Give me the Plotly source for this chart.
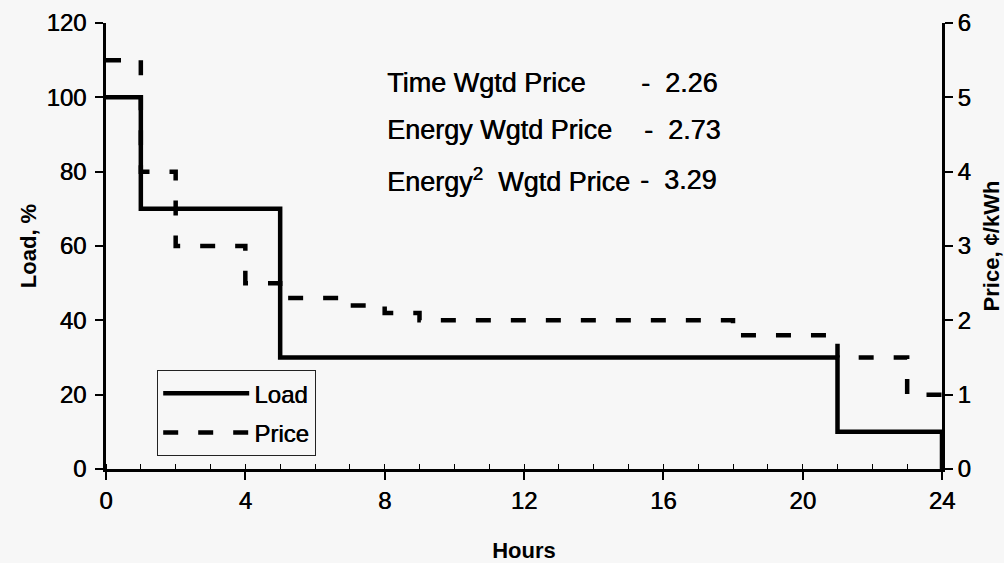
import plotly.graph_objects as go

# Hourly profile: one value per hour, 0..23
hours = list(range(25))
load_pct = [100, 70, 70, 70, 70] + [30] * 16 + [10, 10, 10]
price_cents = [5.5, 4.0, 3.0, 3.0, 2.5, 2.3, 2.3, 2.2, 2.1] + [2.0] * 9 + [1.8, 1.8, 1.8, 1.5, 1.5, 1.0]

x_ticks = [0, 4, 8, 12, 16, 20, 24]
load_ticks = [0, 20, 40, 60, 80, 100, 120]
price_ticks = [0, 1, 2, 3, 4, 5, 6]

summary_labels = ["Time Wgtd Price", "Energy Wgtd Price", "Energy<sup>2</sup>  Wgtd Price"]
summary_values = ["-  2.26", "-  2.73", "-  3.29"]

FONT = "Arial, Liberation Sans, sans-serif"
BG = "#f7f7f7"
INK = "#000000"
THICK = "0.5px 0px 0px #000"  # slightly heavier strokes for the regular text

# step series: the last hourly value is held to hour 24
load_x = hours + [24]
load_y = load_pct + [load_pct[-1], 0]
price_x = hours
price_y = price_cents + [price_cents[-1]]

fig = go.Figure()
fig.add_trace(go.Scatter(
    x=load_x, y=load_y, name="Load", mode="lines", line_shape="hv", legendgroup="a",
    line=dict(color=INK, width=4.5), yaxis="y",
))
fig.add_trace(go.Scatter(
    x=price_x, y=price_y, name="Price", mode="lines", line_shape="hv", legendgroup="b",
    line=dict(color=INK, width=4.5, dash="15px,20px"), yaxis="y2",
))

# summary text block
label_y = [103.8, 91.2, 77.7]
for lab, val, yy, xr in zip(summary_labels, summary_values, label_y, [17.62, 17.72, 17.6]):
    fig.add_annotation(x=8.0, y=yy, xref="x", yref="y", text=lab, showarrow=False,
                       xanchor="left", yanchor="middle",
                       font=dict(family=FONT, size=27, color=INK, shadow=THICK))
    fig.add_annotation(x=xr, y=yy, xref="x", yref="y", text=val, showarrow=False,
                       xanchor="right", yanchor="middle",
                       font=dict(family=FONT, size=27, color=INK, shadow=THICK))

tickfont = dict(family=FONT, size=24, color=INK, shadow=THICK)
titlefont = dict(family=FONT, size=22, color=INK, weight="bold")

fig.update_layout(
    width=1004, height=563,
    margin=dict(l=106, r=62, t=23, b=94),
    paper_bgcolor=BG, plot_bgcolor=BG,
    showlegend=True,
    legend=dict(
        x=0.061, y=0.222, xanchor="left", yanchor="top",
        bgcolor=BG, bordercolor="#222", borderwidth=1.2,
        font=dict(family=FONT, size=24, color=INK, shadow=THICK),
        itemwidth=86, tracegroupgap=5,
    ),
    xaxis=dict(
        range=[0, 24], tickvals=x_ticks, ticks="outside", ticklen=8, tickwidth=1.5,
        tickcolor=INK, showline=True, linecolor=INK, linewidth=3, mirror=False,
        showgrid=False, zeroline=False, tickfont=tickfont, automargin=False,
        minor=dict(dtick=1, ticks="inside", ticklen=5, tickwidth=1, tickcolor=INK, showgrid=False),
        title=dict(text="Hours", font=titlefont, standoff=34),
    ),
    xaxis2=dict(
        range=[0, 24], overlaying="x", side="top", tickvals=x_ticks, ticks="outside",
        ticklen=0, showticklabels=False, showline=True, linecolor=INK, linewidth=3,
        showgrid=False, zeroline=False, automargin=False,
    ),
    xaxis3=dict(
        range=[0, 24], overlaying="x", side="bottom", tickvals=x_ticks, ticks="inside",
        ticklen=8, tickwidth=1.5, tickcolor=INK, showticklabels=False, showline=False,
        showgrid=False, zeroline=False, automargin=False,
    ),
    yaxis=dict(
        range=[0, 120], tickvals=load_ticks, ticks="outside", ticklen=8, tickwidth=1.5,
        tickcolor=INK, showline=True, linecolor=INK, linewidth=2.5, automargin=False,
        showgrid=False, zeroline=False, tickfont=tickfont, ticklabelstandoff=4,
        title=dict(text="Load, %", font=titlefont, standoff=4),
    ),
    yaxis2=dict(
        range=[0, 6], tickvals=price_ticks, overlaying="y", side="right",
        ticks="outside", ticklen=8, tickwidth=1.5, tickcolor=INK, automargin=False,
        showline=True, linecolor=INK, linewidth=2.5,
        showgrid=False, zeroline=False, tickfont=tickfont,
        title=dict(text="Price, ¢/kWh", font=titlefont, standoff=14),
    ),
    yaxis3=dict(
        range=[0, 120], tickvals=load_ticks[1:-1], overlaying="y", side="left",
        ticks="inside", ticklen=8, tickwidth=1.5, tickcolor=INK, showticklabels=False,
        showline=False, showgrid=False, zeroline=False, automargin=False,
    ),
    yaxis4=dict(
        range=[0, 6], tickvals=price_ticks[1:-1], overlaying="y", side="right",
        ticks="inside", ticklen=8, tickwidth=1.5, tickcolor=INK, showticklabels=False,
        showline=False, showgrid=False, zeroline=False, automargin=False,
    ),
)

fig.write_html("out.html")
